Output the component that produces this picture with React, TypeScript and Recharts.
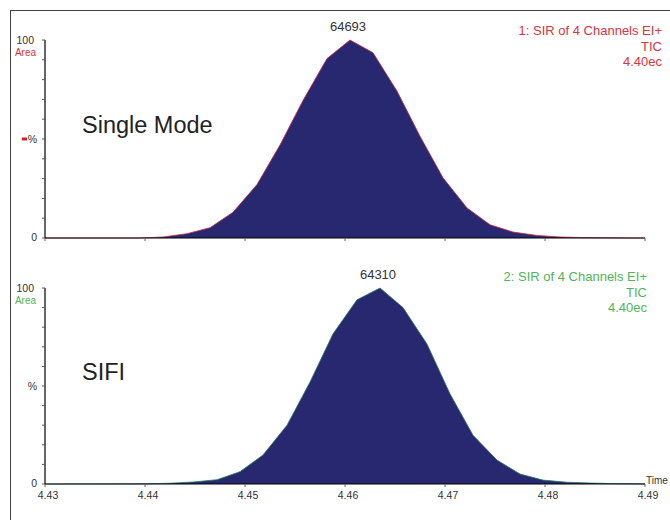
import React from "react";
import { AreaChart, Area, XAxis, YAxis } from "recharts";

const xTicks = [4.43, 4.44, 4.45, 4.46, 4.47, 4.48, 4.49];
const yTicks = [0, 10, 20, 30, 40, 50, 60, 70, 80, 90, 100];

const topTimes = [4.43, 4.4395, 4.4418, 4.4442, 4.4465, 4.4488, 4.4512, 4.4535, 4.4558, 4.4582, 4.4605, 4.4628, 4.4652, 4.4675, 4.4698, 4.4722, 4.4745, 4.4768, 4.4792, 4.4815, 4.4838, 4.4862, 4.4885, 4.49];
const topValues = [0, 0, 0.5, 2.2, 5.2, 13, 27, 47, 69.5, 90.6, 100, 93.6, 74.2, 51.4, 30.4, 15.2, 6.7, 3.0, 1.3, 0.5, 0.2, 0.1, 0, 0];

const bottomTimes = [4.43, 4.4402, 4.4425, 4.4448, 4.4472, 4.4495, 4.4518, 4.4542, 4.4565, 4.4588, 4.4612, 4.4635, 4.4658, 4.4682, 4.4705, 4.4728, 4.4752, 4.4775, 4.4798, 4.4822, 4.4845, 4.4868, 4.4892, 4.49];
const bottomValues = [0, 0.1, 0.4, 1, 2.2, 6.3, 14.8, 30, 52, 76.6, 94, 100, 90, 71.4, 46, 24.9, 12.2, 5.1, 2, 0.9, 0.5, 0.2, 0.1, 0];

const topPeakCount = "64693";
const bottomPeakCount = "64310";
const topTitle = "Single Mode";
const bottomTitle = "SIFI";
const topInfo = ["1: SIR of 4 Channels EI+", "TIC", "4.40ec"];
const bottomInfo = ["2: SIR of 4 Channels EI+", "TIC", "4.40ec"];

const FONT = "'Liberation Sans', Arial, Helvetica, sans-serif";
const NAVY = "#27286f";
const RED = "#dc3340";
const GREEN = "#52b45a";

const topData = topTimes.map((t, i) => ({ t, v: topValues[i] }));
const bottomData = bottomTimes.map((t, i) => ({ t, v: bottomValues[i] }));
const topPeak = topValues.indexOf(Math.max(...topValues));
const bottomPeak = bottomValues.indexOf(Math.max(...bottomValues));

function makeYTick(areaColor: string, withMarker: boolean) {
  return (props: any) => {
    const { x, y, payload } = props;
    const v = payload.value;
    const ax = x;
    if (v === 100) {
      return (
        <g>
          <text x={ax - 8} y={y} dy="0.35em" textAnchor="end" fontSize={10.5} fill="#333" fontFamily={FONT}>100</text>
          <text x={ax - 6} y={y + 12} dy="0.35em" textAnchor="end" fontSize={10} fill={areaColor} fontFamily={FONT}>Area</text>
        </g>
      );
    }
    if (v === 0) {
      return (
        <text x={ax - 5} y={y - 1} dy="0.35em" textAnchor="end" fontSize={10.5} fill="#333" fontFamily={FONT}>0</text>
      );
    }
    if (v === 50) {
      return (
        <g>
          {withMarker && <rect x={ax - 20} y={y - 1.5} width={5} height={3} fill="#d42030" />}
          <text x={ax - 5} y={y} dy="0.35em" textAnchor="end" fontSize={10.5} fill="#333" fontFamily={FONT}>%</text>
        </g>
      );
    }
    return <g />;
  };
}

const XTickLabel = (props: any) => {
  const { x, y, payload } = props;
  return (
    <text x={x + 3} y={y} dy="0.71em" textAnchor="middle" fontSize={10.5} fill="#333" fontFamily={FONT}>
      {payload.value.toFixed(2)}
    </text>
  );
};

const EmptyTick = () => <g />;

function makePeakLabel(peakIndex: number, text: string) {
  return (props: any) => {
    const { x, y, index } = props;
    if (index !== peakIndex) return <g key={`l${index}`} />;
    return (
      <text key={`l${index}`} x={x - 2} y={y - 9} textAnchor="middle" fontSize={13} fill="#333" fontFamily={FONT}>
        {text}
      </text>
    );
  };
}

const infoStyle = (top: number, right: number, color: string): React.CSSProperties => ({
  position: "absolute",
  top,
  right,
  textAlign: "right",
  fontFamily: FONT,
  fontSize: 13,
  lineHeight: "15.5px",
  color,
  whiteSpace: "nowrap",
});

const titleStyle = (top: number): React.CSSProperties => ({
  position: "absolute",
  left: 82,
  top,
  fontFamily: FONT,
  fontSize: 23.5,
  lineHeight: "26px",
  color: "#222",
  whiteSpace: "nowrap",
});

export default function App() {
  return (
    <div style={{ position: "absolute", left: 0, top: 0, width: 670, height: 520, background: "#fff", overflow: "hidden" }}>
      <div style={{ position: "absolute", left: 10, top: 10, width: 680, height: 540, borderTop: "1.5px solid #444", borderLeft: "1.5px solid #444" }} />

      <div style={{ position: "absolute", left: 0, top: 0 }}>
        <AreaChart width={670} height={250} data={topData} margin={{ top: 40, right: 25, left: 0, bottom: 0 }}>
          <XAxis
            dataKey="t"
            type="number"
            domain={[4.43, 4.49]}
            ticks={xTicks}
            allowDataOverflow
            height={12}
            tickSize={3}
            tick={EmptyTick}
            axisLine={{ stroke: "#000", strokeWidth: 1.2 }}
            tickLine={{ stroke: "#666" }}
          />
          <YAxis
            type="number"
            domain={[0, 100]}
            ticks={yTicks}
            width={45}
            tickSize={3}
            tickMargin={0}
            interval={0}
            tick={makeYTick(RED, true)}
            axisLine={{ stroke: "#000", strokeWidth: 1.2 }}
            tickLine={{ stroke: "#555" }}
          />
          <Area
            dataKey="v"
            type="linear"
            fill={NAVY}
            fillOpacity={1}
            stroke="#c8283a"
            strokeWidth={0.8}
            isAnimationActive={false}
            dot={false}
            activeDot={false}
            label={makePeakLabel(topPeak, topPeakCount)}
          />
        </AreaChart>
      </div>

      <div style={{ position: "absolute", left: 0, top: 250 }}>
        <AreaChart width={670} height={270} data={bottomData} margin={{ top: 38, right: 25, left: 0, bottom: 0 }}>
          <XAxis
            dataKey="t"
            type="number"
            domain={[4.43, 4.49]}
            ticks={xTicks}
            allowDataOverflow
            height={36}
            tickSize={3}
            tickMargin={5}
            tick={XTickLabel}
            axisLine={{ stroke: "#000", strokeWidth: 1.2 }}
            tickLine={{ stroke: "#666" }}
          />
          <YAxis
            type="number"
            domain={[0, 100]}
            ticks={yTicks}
            width={45}
            tickSize={3}
            tickMargin={0}
            interval={0}
            tick={makeYTick(GREEN, false)}
            axisLine={{ stroke: "#000", strokeWidth: 1.2 }}
            tickLine={{ stroke: "#555" }}
          />
          <Area
            dataKey="v"
            type="linear"
            fill={NAVY}
            fillOpacity={1}
            stroke="#2f7a5f"
            strokeWidth={0.8}
            isAnimationActive={false}
            dot={false}
            activeDot={false}
            label={makePeakLabel(bottomPeak, bottomPeakCount)}
          />
        </AreaChart>
      </div>

      <div style={titleStyle(112)}>{topTitle}</div>
      <div style={titleStyle(359)}>{bottomTitle}</div>

      <div style={infoStyle(23, 8, RED)}>
        {topInfo.map((s) => <div key={s}>{s}</div>)}
      </div>
      <div style={infoStyle(269, 23, GREEN)}>
        {bottomInfo.map((s) => <div key={s}>{s}</div>)}
      </div>

      <div style={{ position: "absolute", left: 646, top: 475, fontFamily: FONT, fontSize: 10, lineHeight: "12px", color: "#333" }}>Time</div>
    </div>
  );
}
